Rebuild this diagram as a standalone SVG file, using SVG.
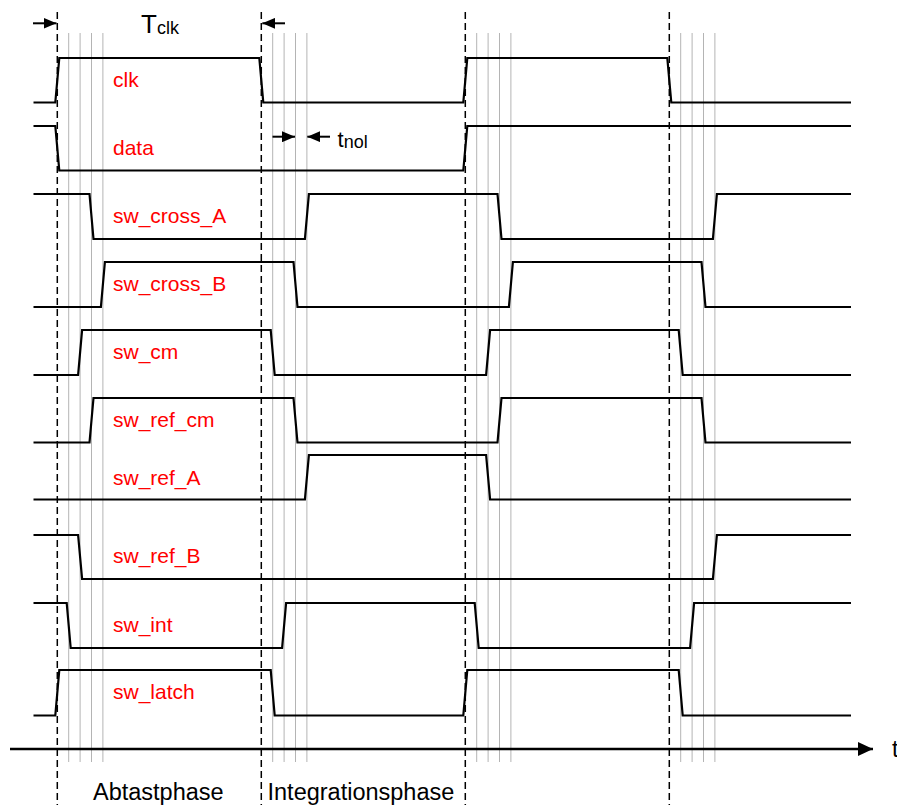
<svg xmlns="http://www.w3.org/2000/svg" width="897" height="805" viewBox="0 0 897 805">
<style>
.bg{fill:#ffffff}
.grid{stroke:#b4b4b4;stroke-width:1;fill:none}
.dash{stroke:#000;stroke-width:1.5;stroke-dasharray:7,4;fill:none}
.sig{stroke:#000;stroke-width:2.2;fill:none;stroke-linejoin:miter}
.arr{stroke:#000;stroke-width:2;fill:none}
.lbl{font-family:"Liberation Sans",Arial,sans-serif;font-size:21px;fill:#ff0000}
.txt{font-family:"Liberation Sans",Arial,sans-serif;fill:#000}
</style>
<defs>
<marker id="ah" markerWidth="13" markerHeight="11" refX="13" refY="5.5" orient="auto" markerUnits="userSpaceOnUse"><path d="M0,0 L13,5.5 L0,11 z" fill="#000"/></marker>
<marker id="ahBig" markerWidth="15" markerHeight="14" refX="15" refY="7" orient="auto" markerUnits="userSpaceOnUse"><path d="M0,0 L15,7 L0,14 z" fill="#000"/></marker>
</defs>
<rect class="bg" x="0" y="0" width="897" height="805"/>
<g id="gridlines">
<line class="grid" x1="68.7" y1="33" x2="68.7" y2="762"/>
<line class="grid" x1="80.1" y1="33" x2="80.1" y2="762"/>
<line class="grid" x1="91.5" y1="33" x2="91.5" y2="762"/>
<line class="grid" x1="102.9" y1="33" x2="102.9" y2="762"/>
<line class="grid" x1="272.7" y1="33" x2="272.7" y2="762"/>
<line class="grid" x1="284.1" y1="33" x2="284.1" y2="762"/>
<line class="grid" x1="295.5" y1="33" x2="295.5" y2="762"/>
<line class="grid" x1="306.9" y1="33" x2="306.9" y2="762"/>
<line class="grid" x1="476.7" y1="33" x2="476.7" y2="762"/>
<line class="grid" x1="488.1" y1="33" x2="488.1" y2="762"/>
<line class="grid" x1="499.5" y1="33" x2="499.5" y2="762"/>
<line class="grid" x1="510.9" y1="33" x2="510.9" y2="762"/>
<line class="grid" x1="680.7" y1="33" x2="680.7" y2="762"/>
<line class="grid" x1="692.1" y1="33" x2="692.1" y2="762"/>
<line class="grid" x1="703.5" y1="33" x2="703.5" y2="762"/>
<line class="grid" x1="714.9" y1="33" x2="714.9" y2="762"/>
</g>
<g id="clockedges">
<line class="dash" x1="57.3" y1="12" x2="57.3" y2="805"/>
<line class="dash" x1="261.3" y1="12" x2="261.3" y2="805"/>
<line class="dash" x1="465.3" y1="12" x2="465.3" y2="805"/>
<line class="dash" x1="669.3" y1="12" x2="669.3" y2="805"/>
</g>
<g id="sig-clk">
<polyline class="sig" points="33.5,102.5 55.3,102.5 59.3,58 259.3,58 263.3,102.5 463.3,102.5 467.3,58 667.3,58 671.3,102.5 851,102.5"/>
<text class="lbl" x="113" y="87">clk</text>
</g>
<g id="sig-data">
<polyline class="sig" points="33.5,126 55.3,126 59.3,170.5 463.3,170.5 467.3,126 851,126"/>
<text class="lbl" x="113" y="155">data</text>
</g>
<g id="sig-sw_cross_A">
<polyline class="sig" points="33.5,194 89.5,194 93.5,239 304.9,239 308.9,194 497.5,194 501.5,239 712.9,239 716.9,194 851,194"/>
<text class="lbl" x="113" y="223">sw_cross_A</text>
</g>
<g id="sig-sw_cross_B">
<polyline class="sig" points="33.5,307 100.9,307 104.9,262 293.5,262 297.5,307 508.9,307 512.9,262 701.5,262 705.5,307 851,307"/>
<text class="lbl" x="113" y="291">sw_cross_B</text>
</g>
<g id="sig-sw_cm">
<polyline class="sig" points="33.5,375 78.1,375 82.1,330 270.7,330 274.7,375 486.1,375 490.1,330 678.7,330 682.7,375 851,375"/>
<text class="lbl" x="113" y="359">sw_cm</text>
</g>
<g id="sig-sw_ref_cm">
<polyline class="sig" points="33.5,442.5 89.5,442.5 93.5,398 293.5,398 297.5,442.5 497.5,442.5 501.5,398 701.5,398 705.5,442.5 851,442.5"/>
<text class="lbl" x="113" y="427">sw_ref_cm</text>
</g>
<g id="sig-sw_ref_A">
<polyline class="sig" points="33.5,499.5 304.9,499.5 308.9,455 486.1,455 490.1,499.5 851,499.5"/>
<text class="lbl" x="113" y="485">sw_ref_A</text>
</g>
<g id="sig-sw_ref_B">
<polyline class="sig" points="33.5,535 78.1,535 82.1,579 712.9,579 716.9,535 851,535"/>
<text class="lbl" x="113" y="563">sw_ref_B</text>
</g>
<g id="sig-sw_int">
<polyline class="sig" points="33.5,603 66.7,603 70.7,648 282.1,648 286.1,603 474.7,603 478.7,648 690.1,648 694.1,603 851,603"/>
<text class="lbl" x="113" y="632">sw_int</text>
</g>
<g id="sig-sw_latch">
<polyline class="sig" points="33.5,715.5 55.3,715.5 59.3,670 270.7,670 274.7,715.5 463.3,715.5 467.3,670 678.7,670 682.7,715.5 851,715.5"/>
<text class="lbl" x="113" y="699">sw_latch</text>
</g>
<g id="connectors">
<line class="arr" x1="33" y1="23.3" x2="56.5" y2="23.3" marker-end="url(#ah)"/>
<line class="arr" x1="285" y1="23.3" x2="262.3" y2="23.3" marker-end="url(#ah)"/>
<line class="arr" x1="272.5" y1="136.7" x2="295" y2="136.7" marker-end="url(#ah)"/>
<line class="arr" x1="330" y1="136.7" x2="307.3" y2="136.7" marker-end="url(#ah)"/>
<line x1="10" y1="749" x2="873" y2="749" stroke="#000" stroke-width="2.6" marker-end="url(#ahBig)"/>
</g>
<g id="annotations">
<text class="txt" x="141" y="33.3" font-size="26">T<tspan font-size="18" dy="1">clk</tspan></text>
<text class="txt" x="337.5" y="146.7" font-size="22">t<tspan font-size="18" dy="1.6">nol</tspan></text>
<text class="txt" x="892" y="757" font-size="23">t</text>
<text class="txt" x="93" y="800" font-size="23.5">Abtastphase</text>
<text class="txt" x="267.5" y="800" font-size="23.5">Integrationsphase</text>
</g>
</svg>
